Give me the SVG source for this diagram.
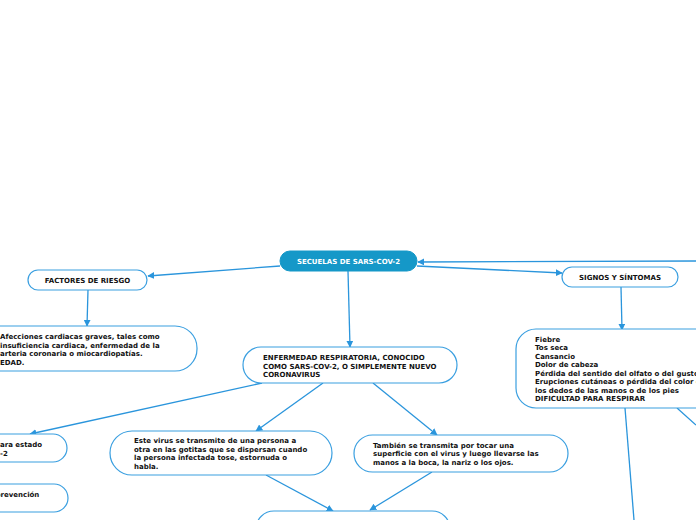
<svg xmlns="http://www.w3.org/2000/svg" width="696" height="520" viewBox="0 0 696 520">
<defs>
<style>
.n{fill:#fff;stroke:#3a9fe0;stroke-width:1.2}
.c{fill:none;stroke:#2a95dc;stroke-width:1.3}
.t{font-family:"DejaVu Sans",Verdana,sans-serif;font-weight:bold;font-size:7px;fill:#111}
.w{fill:#fff}
.m{text-anchor:middle}
</style>
<marker id="a" viewBox="0 0 10 10" refX="9" refY="5" markerWidth="7" markerHeight="7" orient="auto" markerUnits="userSpaceOnUse"><path d="M0,0 L10,5 L0,10 z" fill="#2a95dc"/></marker>
</defs>
<rect width="696" height="520" fill="#fff"/>
<g id="connectors">
<path class="c" d="M696,261 L418,262" marker-end="url(#a)"/>
<path class="c" d="M417,266 L562,273" marker-end="url(#a)"/>
<path class="c" d="M280,266 L148,276" marker-end="url(#a)"/>
<path class="c" d="M88,290 L87,326" marker-end="url(#a)"/>
<path class="c" d="M348,271 L350,347" marker-end="url(#a)"/>
<path class="c" d="M621,287 L622,330" marker-end="url(#a)"/>
<path class="c" d="M262,383 L30,434" marker-end="url(#a)"/>
<path class="c" d="M323,383 L256,431" marker-end="url(#a)"/>
<path class="c" d="M373,383 L437,435" marker-end="url(#a)"/>
<path class="c" d="M266,475 L333,511" marker-end="url(#a)"/>
<path class="c" d="M432,472 L370,510" marker-end="url(#a)"/>
<path class="c" d="M625,408 L634,520"/>
<path class="c" d="M677,408 L696,425"/>
</g>
<g id="secuelas">
<rect x="280" y="251" width="137" height="20" rx="10" fill="#1598c8" stroke="#1598c8"/>
<text class="t w m" x="348.5" y="263.5">SECUELAS DE SARS-COV-2</text>
</g>
<g id="factores">
<rect class="n" x="28" y="270" width="119" height="20" rx="10"/>
<text class="t m" x="87.5" y="283">FACTORES DE RIESGO</text>
</g>
<g id="afecciones">
<rect class="n" x="-30" y="326" width="227" height="45" rx="22"/>
<text class="t" x="0" y="339">Afecciones cardiacas graves, tales como</text>
<text class="t" x="0" y="347.5">insuficiencia cardiaca, enfermedad de la</text>
<text class="t" x="0" y="356">arteria coronaria o miocardiopatías.</text>
<text class="t" x="0" y="364.5">EDAD.</text>
</g>
<g id="enfermedad">
<rect class="n" x="243" y="347" width="214" height="36" rx="18"/>
<text class="t" x="263" y="360">ENFERMEDAD RESPIRATORIA, CONOCIDO</text>
<text class="t" x="263" y="368.5">COMO SARS-COV-2, O SIMPLEMENTE NUEVO</text>
<text class="t" x="263" y="377">CORONAVIRUS</text>
</g>
<g id="estado">
<rect class="n" x="-30" y="434" width="97" height="28" rx="14"/>
<text class="t" x="0" y="447">ara estado</text>
<text class="t" x="0" y="455.5">-2</text>
</g>
<g id="prevencion">
<rect class="n" x="-30" y="484" width="98" height="28" rx="14"/>
<text class="t" x="-4.5" y="497">prevención</text>
</g>
<g id="transmite">
<rect class="n" x="110" y="431" width="222" height="44" rx="22"/>
<text class="t" x="134" y="443">Este virus se transmite de una persona a</text>
<text class="t" x="134" y="451.5">otra en las gotitas que se dispersan cuando</text>
<text class="t" x="134" y="460">la persona infectada tose, estornuda o</text>
<text class="t" x="134" y="468.5">habla.</text>
</g>
<g id="tambien">
<rect class="n" x="354" y="435" width="214" height="37" rx="18.5"/>
<text class="t" x="373" y="447.5">También se transmita por tocar una</text>
<text class="t" x="373" y="456">superficie con el virus y luego llevarse las</text>
<text class="t" x="373" y="464.5">manos a la boca, la nariz o los ojos.</text>
</g>
<g id="bottom">
<rect class="n" x="256" y="511" width="194" height="40" rx="18"/>
</g>
<g id="signos">
<rect class="n" x="562" y="267" width="116" height="20" rx="10"/>
<text class="t m" x="620" y="280">SIGNOS Y SÍNTOMAS</text>
</g>
<g id="sintomas">
<rect class="n" x="516" y="329" width="220" height="79" rx="20"/>
<text class="t" x="535" y="341.5">Fiebre</text>
<text class="t" x="535" y="350">Tos seca</text>
<text class="t" x="535" y="358.5">Cansancio</text>
<text class="t" x="535" y="367">Dolor de cabeza</text>
<text class="t" x="535" y="375.5">Pérdida del sentido del olfato o del gusto</text>
<text class="t" x="535" y="384">Erupciones cutáneas o pérdida del color en</text>
<text class="t" x="535" y="392.5">los dedos de las manos o de los pies</text>
<text class="t" x="535" y="401">DIFICULTAD PARA RESPIRAR</text>
</g>
</svg>
